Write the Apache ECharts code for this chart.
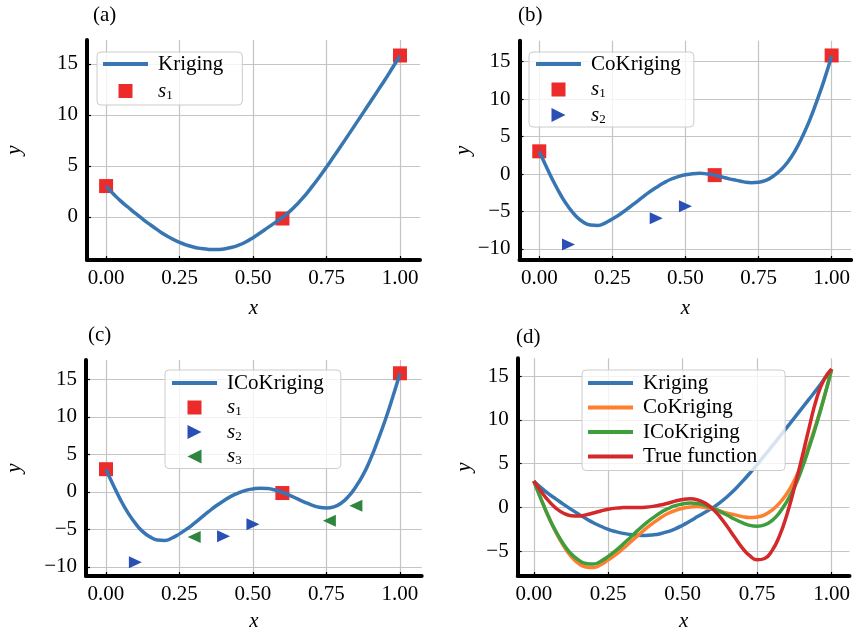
<!DOCTYPE html>
<html>
<head>
<meta charset="utf-8">
<script src="https://cdn.jsdelivr.net/npm/echarts@6/dist/echarts.min.js"></script>
<style>
  html, body { margin: 0; padding: 0; background: #fff; }
  #chart { width: 853px; height: 633px; }
</style>
</head>
<body>
<div id="chart"></div>
<script>
// curve sample positions
var xFine = [0, 0.025, 0.05, 0.075, 0.1, 0.125, 0.15, 0.175, 0.2, 0.225, 0.25,
  0.275, 0.3, 0.325, 0.35, 0.375, 0.4, 0.425, 0.45, 0.475, 0.5,
  0.525, 0.55, 0.575, 0.6, 0.625, 0.65, 0.675, 0.7, 0.725, 0.75,
  0.775, 0.8, 0.825, 0.85, 0.875, 0.9, 0.925, 0.95, 0.975, 1];

var krigingY = [3.0, 2.25, 1.55, 0.95, 0.35, -0.22, -0.76, -1.27, -1.75, -2.15, -2.5,
  -2.77, -2.97, -3.1, -3.18, -3.2, -3.14, -3.0, -2.77, -2.45, -2.03,
  -1.55, -1.05, -0.55, -0.05, 0.55, 1.25, 2.05, 2.95, 3.9, 4.9,
  5.95, 7.0, 8.07, 9.15, 10.23, 11.32, 12.41, 13.5, 14.65, 15.8];
var coKrigingY = [3.0, 0.9, -1.1, -2.9, -4.4, -5.6, -6.4, -6.82, -6.88, -6.55, -6.0,
  -5.4, -4.7, -3.95, -3.2, -2.45, -1.8, -1.2, -0.7, -0.35, -0.1,
  0.05, 0.1, 0.0, -0.15, -0.4, -0.65, -0.85, -1.05, -1.16, -1.1,
  -0.85, -0.3, 0.5, 1.6, 3.1, 5.0, 7.2, 9.8, 12.6, 15.8];
var iCoKrigingY = [3.0, 0.9, -1.1, -2.8, -4.2, -5.3, -6.0, -6.42, -6.48, -6.15, -5.6,
  -4.95, -4.2, -3.4, -2.6, -1.85, -1.2, -0.6, -0.15, 0.2, 0.4,
  0.5, 0.45, 0.25, -0.05, -0.45, -0.9, -1.35, -1.75, -2.05, -2.15,
  -2.0, -1.5, -0.6, 0.7, 2.3, 4.4, 6.9, 9.6, 12.6, 15.8];
var trueY = [3.03, 1.81, 0.74, -0.1, -0.66, -0.94, -0.98, -0.85, -0.64, -0.41, -0.21,
  -0.08, -0.02, 0.0, 0.0, 0.03, 0.12, 0.27, 0.48, 0.72, 0.91,
  0.99, 0.87, 0.5, -0.15, -1.07, -2.21, -3.44, -4.62, -5.52, -5.99,
  -5.84, -4.94, -3.26, -0.8, 2.27, 5.63, 9.19, 12.49, 14.65, 15.83];

var s1X = [0, 0.6, 1];
var s1Y = [3.03, -0.15, 15.83];
var s2X = [0.1, 0.4, 0.5];
var s2Y = [-9.4, -5.9, -4.3];
var s3X = [0.3, 0.76, 0.85];
var s3Y = [-6.0, -3.85, -1.85];

var xTicks = [0, 0.25, 0.5, 0.75, 1];
var yTicksA = [0, 5, 10, 15];
var yTicksBC = [-10, -5, 0, 5, 10, 15];
var yTicksD = [-5, 0, 5, 10, 15];

var serif = 'Liberation Serif';
var cBlue = '#3776b3', cRed = '#ec2b2b', cTri2 = '#2a50b5', cTri3 = '#2f8540';
var cOrange = '#ff7f2e', cGreen = '#3e9e3e', cTrue = '#d3292a';
var rightTri = 'path://M0,0L10,5L0,10Z';
var leftTri = 'path://M10,0L0,5L10,10Z';
var squareIcon = 'path://M0,0H10V10H0Z';
var lineIcon = 'path://M0,0H45V4H0Z';

function pairs(xs, ys) {
  return xs.map(function(x, i) { return [x, ys[i]]; });
}
function minus(v) {
  return v < 0 ? '\u2212' + (-v) : String(v);
}

var panels = [
  { label: '(a)', lx: 93, ly: 5, grid: { left: 87, top: 40, width: 333, height: 220 },
    x: [-0.065, 1.068], y: [-4.22, 17.35], yTicks: yTicksA, xGap: 38, yGap: 62 },
  { label: '(b)', lx: 518, ly: 5, grid: { left: 519.5, top: 40.7, width: 332.5, height: 219.3 },
    x: [-0.0676, 1.0666], y: [-11.48, 17.8], yTicks: yTicksBC, xGap: 38, yGap: 46 },
  { label: '(c)', lx: 88, ly: 325, grid: { left: 86, top: 360, width: 335.7, height: 217.3 },
    x: [-0.068, 1.074], y: [-11.22, 17.6], yTicks: yTicksBC, xGap: 35, yGap: 61 },
  { label: '(d)', lx: 516, ly: 327, grid: { left: 517.7, top: 358.3, width: 335.3, height: 219 },
    x: [-0.054, 1.06], y: [-7.84, 17.05], yTicks: yTicksD, xGap: 35, yGap: 43 }
];

var labelText = { color: '#000', fontFamily: serif, fontSize: 21 };

var legendText = {
  color: '#000', fontFamily: serif, fontSize: 21, lineHeight: 22,
  padding: [0, 0, 0, 5],
  rich: {
    i: { fontFamily: serif, fontStyle: 'italic', fontSize: 21, lineHeight: 22 },
    n: { fontFamily: serif, fontSize: 13, lineHeight: 10, verticalAlign: 'bottom' }
  }
};
var legendIcons = {
  s1: { icon: squareIcon, color: cRed },
  s2: { icon: rightTri, color: cTri2 },
  s3: { icon: leftTri, color: cTri3 }
};
function legendName(name) {
  if (/^s\d$/.test(name)) return '{i|s}{n|' + name.charAt(1) + '}';
  return name;
}
function makeLegend(names, colors, left, top, gap, pad) {
  return {
    data: names.map(function(n, i) {
      var m = legendIcons[n];
      return m ? { name: n, icon: m.icon, itemStyle: { color: m.color } }
               : { name: n, icon: lineIcon, itemStyle: { color: colors[i] } };
    }),
    orient: 'vertical', left: left, top: top,
    itemWidth: 45, itemHeight: 14, itemGap: gap, padding: pad,
    backgroundColor: 'rgba(255,255,255,0.8)', borderColor: '#cccccc',
    borderWidth: 1, borderRadius: 4,
    textStyle: legendText, formatter: legendName, selectedMode: false
  };
}

var option = {
  animation: false,
  backgroundColor: '#fff',
  title: panels.map(function(p) {
    return { text: p.label, left: p.lx, top: p.ly, padding: 0,
      textStyle: { color: '#000', fontFamily: serif, fontSize: 21, fontWeight: 'normal' } };
  }),
  grid: panels.map(function(p) { return p.grid; }),
  xAxis: panels.map(function(p, i) {
    return {
      type: 'value', gridIndex: i, min: p.x[0], max: p.x[1],
      name: 'x', nameLocation: 'middle', nameGap: p.xGap,
      nameTextStyle: { color: '#000', fontFamily: serif, fontSize: 21, fontStyle: 'italic' },
      axisLine: { onZero: false, lineStyle: { color: '#000', width: 4 } },
      axisTick: { inside: true, length: 4, customValues: xTicks, lineStyle: { color: '#000', width: 1.2 } },
      axisLabel: Object.assign({ margin: 8, customValues: xTicks,
        formatter: function(v) { return v.toFixed(2); } }, labelText),
      splitLine: { show: true, lineStyle: { color: '#c4c4c4', width: 1.2 } }
    };
  }),
  yAxis: panels.map(function(p, i) {
    return {
      type: 'value', gridIndex: i, min: p.y[0], max: p.y[1],
      name: 'y', nameLocation: 'middle', nameGap: p.yGap,
      nameTextStyle: { color: '#000', fontFamily: serif, fontSize: 21, fontStyle: 'italic' },
      axisLine: { onZero: false, lineStyle: { color: '#000', width: 4 } },
      axisTick: { inside: true, length: 4, customValues: p.yTicks, lineStyle: { color: '#000', width: 1.2 } },
      axisLabel: Object.assign({ margin: 9, customValues: p.yTicks, formatter: minus }, labelText),
      splitLine: { show: true, lineStyle: { color: '#c4c4c4', width: 1.2 } }
    };
  }),
  legend: [
    makeLegend(['Kriging', 's1'], [cBlue], 97, 52, 5, [1, 19, 3, 6]),
    makeLegend(['CoKriging', 's1', 's2'], [cBlue], 529, 52, 3.5, [1, 13, 1, 7]),
    makeLegend(['ICoKriging', 's1', 's2', 's3'], [cBlue], 165, 370, 2.5, [2, 17, 1, 7]),
    makeLegend(['Kriging', 'CoKriging', 'ICoKriging', 'True function'],
      [cBlue, cOrange, cGreen, cTrue], 582, 370, 2.5, [2, 28, 3, 6])
  ],
  series: []
};

function scatter(name, xs, ys, idx, symbol, size, color) {
  return { name: name, type: 'scatter', xAxisIndex: idx, yAxisIndex: idx,
    data: pairs(xs, ys), symbol: symbol, symbolSize: size,
    itemStyle: { color: color, opacity: 1 }, z: 2 };
}
function curve(name, xs, ys, idx, color) {
  return { name: name, type: 'line', xAxisIndex: idx, yAxisIndex: idx,
    data: pairs(xs, ys), smooth: 0.5, symbol: 'none', showSymbol: false,
    lineStyle: { color: color, width: 3.5 }, itemStyle: { color: color }, z: 3 };
}

option.series.push(
  scatter('s1', s1X, s1Y, 0, 'rect', 14, cRed),
  curve('Kriging', xFine, krigingY, 0, cBlue),

  scatter('s1', s1X, s1Y, 1, 'rect', 14, cRed),
  scatter('s2', s2X, s2Y, 1, rightTri, [13, 12], cTri2),
  curve('CoKriging', xFine, coKrigingY, 1, cBlue),

  scatter('s1', s1X, s1Y, 2, 'rect', 14, cRed),
  scatter('s2', s2X, s2Y, 2, rightTri, [13, 12], cTri2),
  scatter('s3', s3X, s3Y, 2, leftTri, [13, 12], cTri3),
  curve('ICoKriging', xFine, iCoKrigingY, 2, cBlue),

  curve('Kriging', xFine, krigingY, 3, cBlue),
  curve('CoKriging', xFine, coKrigingY, 3, cOrange),
  curve('ICoKriging', xFine, iCoKrigingY, 3, cGreen),
  curve('True function', xFine, trueY, 3, cTrue)
);

var chart = echarts.init(document.getElementById('chart'), null, { renderer: 'canvas' });
chart.setOption(option);
</script>
</body>
</html>
